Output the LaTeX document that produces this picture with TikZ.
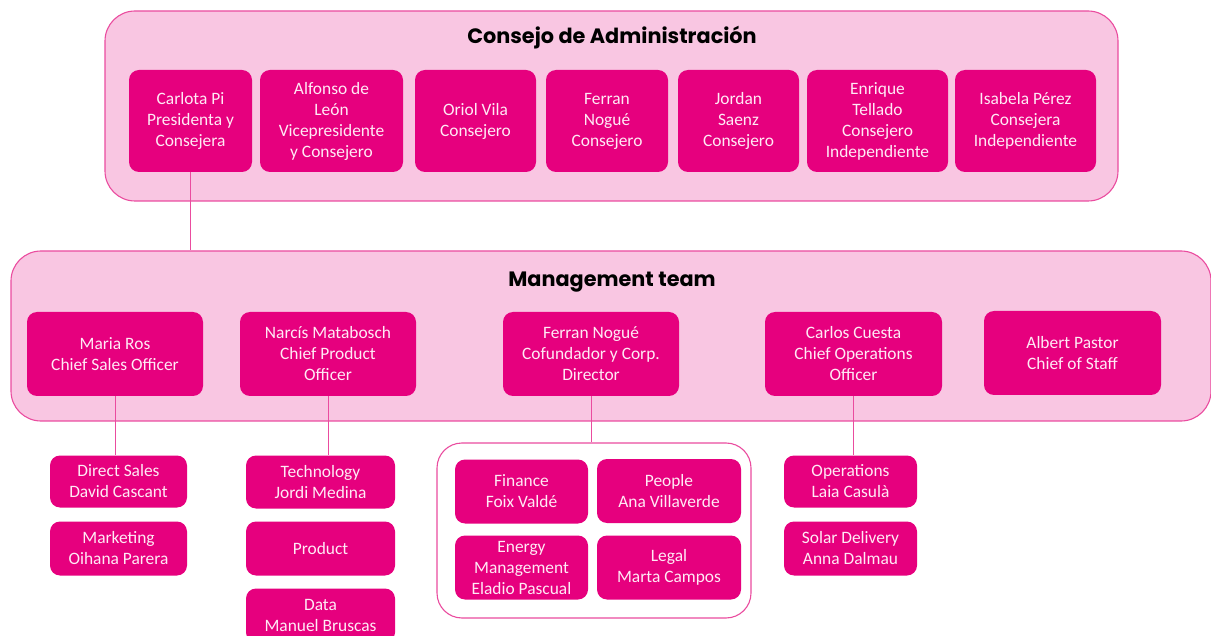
\documentclass[tikz,border=0pt]{standalone}
\usepackage{fontspec}
\setmainfont{Carlito}
\newfontfamily\headfont{Poppins}
\definecolor{orgmagenta}{HTML}{E6007E}
\definecolor{orgpink}{HTML}{F9C6E2}
\definecolor{orgline}{HTML}{EA4C9F}
\definecolor{orgtext}{HTML}{FFEAF5}
\tikzset{
  card/.style={fill=orgmagenta, rounded corners=10pt, text=orgtext, align=center,
               inner sep=0pt, font=\fontsize{17.4}{21}\selectfont},
  panel/.style={draw=orgline, fill=orgpink, line width=1.1pt, rounded corners=30pt, inner sep=0pt},
  group/.style={draw=orgline, fill=white, line width=1.1pt, rounded corners=25pt, inner sep=0pt},
  link/.style={draw=orgline, line width=1pt},
  heading/.style={font=\headfont\bfseries\fontsize{20.8}{24}\selectfont}
}

\begin{document}
\begin{tikzpicture}[x=1pt,y=-1pt]
  \useasboundingbox (0,0) rectangle (1211,636);

  % Panels
  \node[panel, minimum width=1013pt, minimum height=190pt] (board) at (611.5,106) {};
  \node[panel, minimum width=1200pt, minimum height=170pt] (mgmt) at (611,336) {};
  \node[group, minimum width=314pt, minimum height=175pt] (corp) at (594,530.5) {};
  \node[heading] (boardtitle) at (612,38) {Consejo de Administración};
  \node[heading] (mgmttitle) at (612,282) {Management team};

  % Consejo
  \node[card, minimum width=123pt, minimum height=102pt] (carlota) at (190.5,121) {Carlota Pi\\Presidenta y\\Consejera};
  \node[card, minimum width=143pt, minimum height=102pt] (alfonso) at (331.5,121) {Alfonso de\\León\\Vicepresidente\\y Consejero};
  \node[card, minimum width=121pt, minimum height=102pt] (oriol) at (475.5,121) {Oriol Vila\\Consejero};
  \node[card, minimum width=122pt, minimum height=102pt] (ferran) at (607,121) {Ferran\\Nogué\\Consejero};
  \node[card, minimum width=121pt, minimum height=102pt] (jordan) at (738.5,121) {Jordan\\Saenz\\Consejero};
  \node[card, minimum width=141pt, minimum height=102pt] (enrique) at (877.5,121) {Enrique\\Tellado\\Consejero\\Independiente};
  \node[card, minimum width=141pt, minimum height=102pt] (isabela) at (1025.5,121) {Isabela Pérez\\Consejera\\Independiente};

  % Management team
  \node[card, minimum width=176pt, minimum height=84pt] (maria) at (115,354) {Maria Ros\\Chief Sales Officer};
  \node[card, minimum width=176pt, minimum height=84pt] (narcis) at (328,354) {Narcís Matabosch\\Chief Product\\Officer};
  \node[card, minimum width=176pt, minimum height=84pt] (nogue) at (591,354) {Ferran Nogué\\Cofundador y Corp.\\Director};
  \node[card, minimum width=177pt, minimum height=84pt] (carlos) at (853.5,354) {Carlos Cuesta\\Chief Operations\\Officer};
  \node[card, minimum width=177pt, minimum height=84pt] (albert) at (1072.5,353) {Albert Pastor\\Chief of Staff};

  % Areas
  \node[card, minimum width=137pt, minimum height=52pt] (direct) at (118.5,481.5) {Direct Sales\\David Cascant};
  \node[card, minimum width=137pt, minimum height=54pt] (marketing) at (118.5,548.5) {Marketing\\Oihana Parera};
  \node[card, minimum width=149pt, minimum height=53pt] (tech) at (320.5,482) {Technology\\Jordi Medina};
  \node[card, minimum width=149pt, minimum height=54pt] (product) at (320.5,548.5) {Product};
  \node[card, minimum width=149pt, minimum height=54pt] (data) at (320.5,615.5) {Data\\Manuel Bruscas};
  \node[card, minimum width=133pt, minimum height=64pt] (finance) at (521.5,491.5) {Finance\\Foix Valdé};
  \node[card, minimum width=144pt, minimum height=64pt] (people) at (669,491) {People\\Ana Villaverde};
  \node[card, minimum width=133pt, minimum height=64pt] (energy) at (521.5,567.5) {Energy\\Management\\Eladio Pascual};
  \node[card, minimum width=144pt, minimum height=64pt] (legal) at (669,567.5) {Legal\\Marta Campos};
  \node[card, minimum width=133pt, minimum height=52pt] (operations) at (850.5,481.5) {Operations\\Laia Casulà};
  \node[card, minimum width=133pt, minimum height=54pt] (solar) at (850.5,548.5) {Solar Delivery\\Anna Dalmau};

  % Links
  \draw[link] (carlota.south) -- (carlota.south |- mgmt.north);
  \draw[link] (maria.south) -- (maria.south |- direct.north);
  \draw[link] (narcis.south) -- (narcis.south |- tech.north);
  \draw[link] (nogue.south) -- (nogue.south |- corp.north);
  \draw[link] (carlos.south) -- (carlos.south |- operations.north);
\end{tikzpicture}
\end{document}
